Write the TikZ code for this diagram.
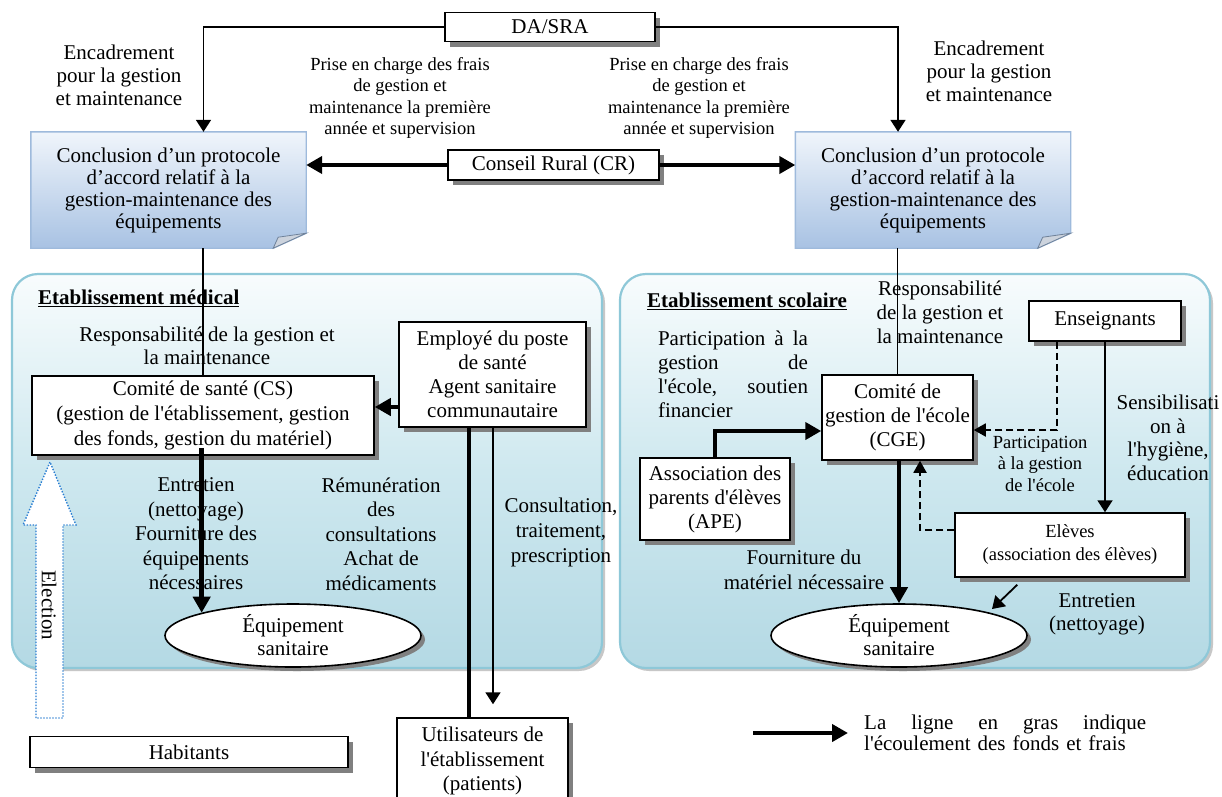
\documentclass[tikz,border=0pt]{standalone}
\usepackage{fontspec}
\setmainfont{Liberation Serif}
% same face without the TeX quote mapping, for straight apostrophes
\newfontfamily\aposfont{Liberation Serif}
\newcommand{\ap}{{\aposfont'}}
\usetikzlibrary{arrows.meta,shadows,calc,backgrounds,shapes.geometric}

\definecolor{panelline}{RGB}{142,200,216}
\definecolor{paneltop}{RGB}{248,252,253}
\definecolor{panelmid}{RGB}{206,232,239}
\definecolor{panelbot}{RGB}{180,217,228}
\definecolor{notetop}{RGB}{240,245,251}
\definecolor{notebot}{RGB}{168,194,227}
\definecolor{noteline}{RGB}{158,186,220}
\definecolor{foldfill}{RGB}{204,211,221}
\definecolor{votecol}{RGB}{40,125,210}

\tikzset{
  base/.style={font=\fontsize{21}{23.5}\selectfont},
  small/.style={font=\fontsize{18.5}{21.5}\selectfont},
  lbl/.style={align=center, inner sep=0pt},
  box/.style={draw, line width=1.5pt, fill=white, align=center, inner sep=0pt,
    drop shadow={shadow xshift=5pt, shadow yshift=-5pt, fill=black!50, opacity=1}},
  equip/.style={ellipse, draw, line width=1.6pt, fill=white, align=center,
    inner sep=0pt, minimum width=256pt, minimum height=63pt,
    font=\fontsize{21}{23}\selectfont,
    drop shadow={shadow xshift=4pt, shadow yshift=-4pt, fill=black!50, opacity=1}},
  fund/.style={line width=4.5pt, -{Triangle[length=16pt,width=17pt]}},
  fundline/.style={line width=4.5pt},
  flow/.style={line width=1.8pt, -{Triangle[length=12pt,width=15pt]}},
  link/.style={line width=1.8pt},
  dflow/.style={line width=1.8pt, dash pattern=on 7pt off 4pt,
    -{Triangle[length=12pt,width=13pt]}},
}

\begin{document}
\begin{tikzpicture}[x=1pt,y=-1pt]
\useasboundingbox (0,0) rectangle (1222,796);

% ---------- top level ----------
\node[box, base, minimum width=210pt, minimum height=29pt] (dasra) at (550,27) {DA/SRA};
\node[box, base, minimum width=211pt, minimum height=30pt] (cr) at (553.5,165) {Conseil Rural (CR)};

\node[lbl, minimum width=275pt, minimum height=116pt, font=\fontsize{21}{22}\selectfont]
  (lc) at (168.5,190) {Conclusion d’un protocole\\d’accord relatif à la\\gestion-maintenance des\\équipements};
\node[lbl, minimum width=275pt, minimum height=116pt, font=\fontsize{21}{22}\selectfont]
  (rc) at (933,190) {Conclusion d’un protocole\\d’accord relatif à la\\gestion-maintenance des\\équipements};

\node[lbl, font=\fontsize{21}{23}\selectfont] (encL) at (119,75.5) {Encadrement\\pour la gestion\\et maintenance};
\node[lbl, font=\fontsize{21}{23}\selectfont] (encR) at (989,71) {Encadrement\\pour la gestion\\et maintenance};
\node[lbl, small] (priseL) at (400,98) {Prise en charge des frais\\de gestion et\\maintenance la première\\année et supervision};
\node[lbl, small] (priseR) at (699,98) {Prise en charge des frais\\de gestion et\\maintenance la première\\année et supervision};

% ---------- medical establishment ----------
\node[base, anchor=west, inner sep=0pt] (tmed) at (38,298) {\underline{\textbf{Etablissement médical}}};
\node[lbl, font=\fontsize{21}{23}\selectfont] (respL) at (207,346) {Responsabilité de la gestion et\\la maintenance};
\node[box, minimum width=342pt, minimum height=79pt, font=\fontsize{21}{25}\selectfont]
  (cs) at (203,415.5) {Comité de santé (CS)\\(gestion de l\ap établissement, gestion\\des fonds, gestion du matériel)};
\node[box, minimum width=187pt, minimum height=105pt, font=\fontsize{21}{24}\selectfont]
  (emp) at (492.5,374.5) {Employé du poste\\de santé\\Agent sanitaire\\communautaire};
\node[equip] (eqL) at (293,635.5) {Équipement\\sanitaire};
\node[lbl, font=\fontsize{21}{24.5}\selectfont] (lEnt) at (196,534) {Entretien\\(nettoyage)\\Fourniture des\\équipements\\nécessaires};
\node[lbl, font=\fontsize{21}{24.5}\selectfont] (lRem) at (381,534) {Rémunération\\des\\consultations\\Achat de\\médicaments};
\node[lbl, font=\fontsize{21}{25}\selectfont] (lCons) at (561,532) {Consultation,\\traitement,\\prescription};

\node[box, minimum width=171pt, minimum height=86pt, font=\fontsize{21}{24.5}\selectfont]
  (usr) at (482.5,761) {Utilisateurs de\\l\ap établissement\\(patients)};
\node[box, base, minimum width=318pt, minimum height=31pt] (hab) at (189,752) {Habitants};

% ---------- school establishment ----------
\node[base, anchor=west, inner sep=0pt] (tsco) at (647,301) {\underline{\textbf{Etablissement scolaire}}};
\node[lbl, font=\fontsize{21}{24}\selectfont] (respR) at (940,312) {Responsabilité\\de la gestion et\\la maintenance};
\node[box, base, minimum width=152pt, minimum height=40pt] (ens) at (1105,321) {Enseignants};
\node[inner sep=0pt, text width=150pt, align=left, font=\fontsize{21}{24}\selectfont]
  (lPart) at (733,374) {Participation\hfill à\hfill la\\gestion\hfill de\\l\ap école,\hfill soutien\\financier};
\node[box, minimum width=151pt, minimum height=85pt, font=\fontsize{21}{24}\selectfont]
  (cge) at (897.5,417.5) {Comité de\\gestion de l\ap école\\(CGE)};
\node[box, minimum width=150pt, minimum height=82pt, font=\fontsize{21}{24}\selectfont]
  (ape) at (715,499) {Association des\\parents d\ap élèves\\(APE)};
\node[box, minimum width=230pt, minimum height=64pt, font=\fontsize{18.5}{23}\selectfont]
  (elv) at (1070,545) {Elèves\\(association des élèves)};
\node[equip] (eqR) at (899,635.5) {Équipement\\sanitaire};
\node[lbl, font=\fontsize{21}{25}\selectfont] (lFour) at (804,569.5) {Fourniture du\\matériel nécessaire};
\node[lbl, small] (lPartE) at (1040,463.5) {Participation\\à la gestion\\de l\ap école};
\node[lbl, font=\fontsize{21}{23.5}\selectfont] (lSens) at (1168,438) {Sensibilisati\\on à\\l\ap hygiène,\\éducation};
\node[lbl, font=\fontsize{21}{23}\selectfont] (lEntR) at (1097,614) {Entretien\\(nettoyage)};

% ---------- legend ----------
\coordinate (legA) at (753,733);
\coordinate (legB) at (848,733);
\draw[fund] (legA) -- (legB);
\node[anchor=west, inner sep=0pt, text width=282pt, align=left, font=\fontsize{21}{21}\selectfont]
  (leg) at (864,732.5) {La\hfill ligne\hfill en\hfill gras\hfill indique\\l\ap écoulement des fonds et frais};

% ---------- election block arrow ----------
\path[draw=votecol, line width=1.4pt, dash pattern=on 1.4pt off 1.6pt, fill=white]
  (36,718) -- (36,525) -- (23,525) -- (50,462) -- (76,525) -- (63,525) -- (63,718) -- cycle;
\node[rotate=-90, inner sep=0pt, font=\fontsize{21}{22}\selectfont] (elec) at (49,605) {Election};

% ---------- connectors ----------
\draw[flow] (dasra.west) -| ([xshift=35pt]lc.north);
\draw[flow] (dasra.east) -| ([xshift=-35pt]rc.north);
\draw[fund] (cr.west) -- (cr.west -| lc.east);
\draw[fund] (cr.east) -- (cr.east -| rc.west);

\draw[link] (cs.north |- lc.south) -- (cs.north);
\draw[link] (cge.north |- rc.south) -- (cge.north);

\coordinate (e1) at ([yshift=-32.5pt]emp.west);
\draw[fund] (e1) -- (e1 -| cs.east);
\coordinate (c1) at (eqL.166 |- cs.south);
\draw[fund] ([yshift=8pt]c1) -- (eqL.166);
\coordinate (c2) at ([xshift=-23.5pt]emp.south);
\draw[fundline] (c2) -- (c2 |- usr.north);
\coordinate (c3) at ([xshift=0.5pt]emp.south);
\coordinate (c3b) at (c3 |- usr.north);
\draw[flow] (c3) -- ([yshift=13pt]c3b);

\coordinate (c4) at ([yshift=-13.5pt]cge.west);
\draw[fund] (ape.north) |- (c4);
\coordinate (c5) at ([xshift=-48pt]ens.south);
\coordinate (c6) at ([yshift=-12.5pt]cge.east);
\draw[dflow] (c5) |- (c6);
\draw[flow] (ens.south) -- (ens.south |- elv.north);
\coordinate (c7) at ([yshift=15pt]elv.west);
\coordinate (c8) at ([xshift=22.5pt]cge.south);
\draw[dflow] (c7) -| (c8);
\draw[fund] (eqR.north |- cge.south) -- (eqR.north);
\coordinate (c9) at ([xshift=63pt,yshift=-7pt]elv.south west);
\coordinate (c10) at (992,609);
\draw[flow] (c9) -- (c10);

% ---------- backgrounds: page, panels, agreement notes ----------
\begin{scope}[on background layer]
  \fill[white] (0,0) rectangle (1222,796);
  \foreach \xa/\xb in {12/602, 620/1210} {
    \path[rounded corners=26pt, fill=black!22, xshift=3pt, yshift=-3pt] (\xa,274) rectangle (\xb,668);
    \path[rounded corners=26pt, draw=panelline, line width=2.2pt,
      top color=paneltop, bottom color=panelbot, middle color=panelmid] (\xa,274) rectangle (\xb,668);
  }
  \foreach \n in {lc,rc} {
    \path[fill=black!30, xshift=4pt, yshift=-4pt]
      (\n.north west) -- (\n.north east) -- ($(\n.south east)+(0,-15)$)
      -- ($(\n.south east)+(-33,0)$) -- (\n.south west) -- cycle;
    \path[top color=notetop, bottom color=notebot, draw=noteline, line width=1.4pt]
      (\n.north west) -- (\n.north east) -- ($(\n.south east)+(0,-15)$)
      -- ($(\n.south east)+(-33,0)$) -- (\n.south west) -- cycle;
    \path[fill=foldfill, draw=noteline!70!black, line width=0.8pt]
      ($(\n.south east)+(0,-15)$) -- ($(\n.south east)+(-33,0)$)
      -- ($(\n.south east)+(-28,-11)$) -- cycle;
  }
\end{scope}
\end{tikzpicture}
\end{document}
